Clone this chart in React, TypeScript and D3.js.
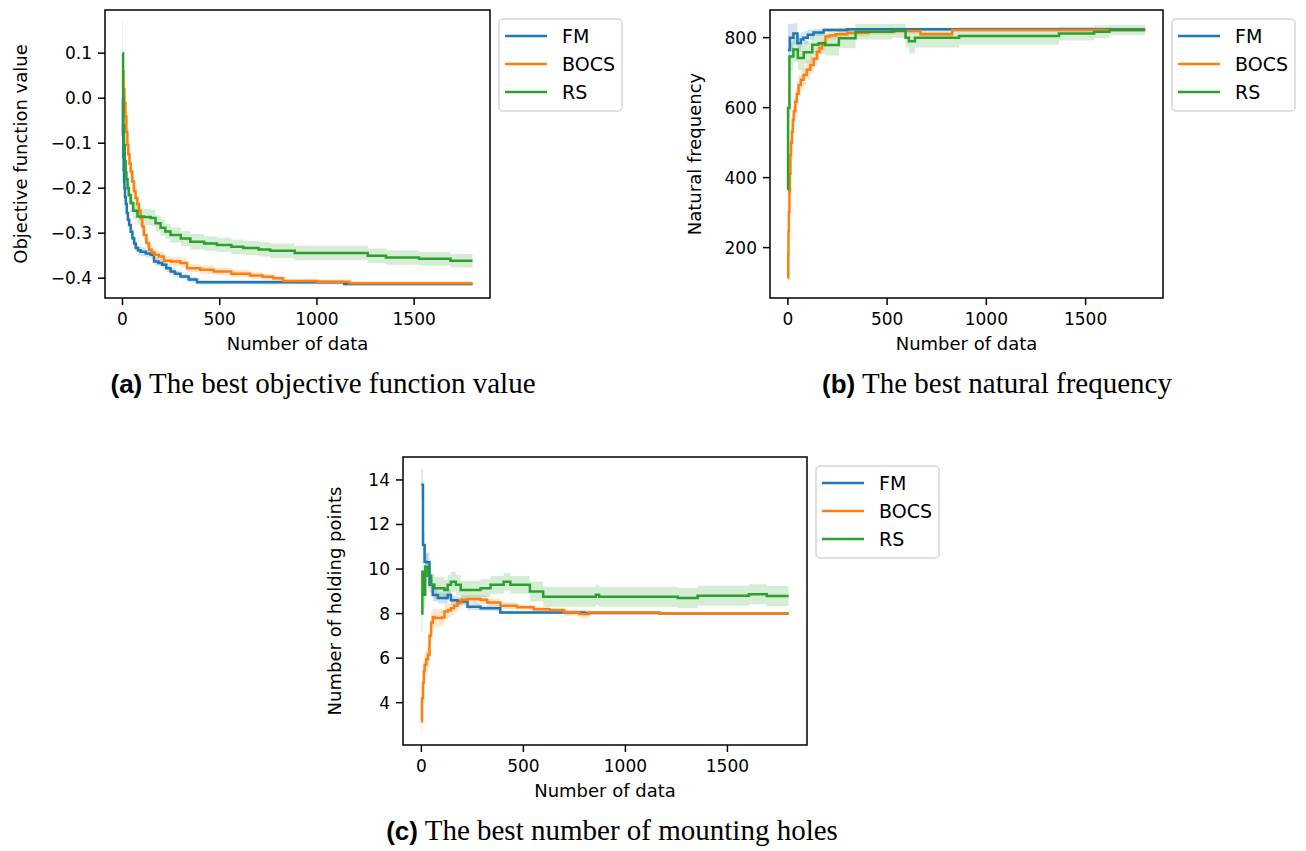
import React from 'react';
import * as d3 from 'd3';

// colours (matplotlib tab10)
const FM_COLOR = '#1f77b4';
const BOCS_COLOR = '#ff7f0e';
const RS_COLOR = '#2ca02c';

const xTicks = [0, 500, 1000, 1500];
const legendNames = ['FM', 'BOCS', 'RS'];

// (a) best objective function value
const fmObjX = [0, 2, 4, 6, 8, 10, 13, 17, 22, 28, 34, 42, 51, 60, 68, 80, 93, 120, 145, 162, 185, 204, 225, 247, 270, 298, 340, 383, 1140, 1800];
const fmObjMean = [0.0, -0.08, -0.13, -0.16, -0.185, -0.2, -0.22, -0.235, -0.255, -0.27, -0.282, -0.297, -0.311, -0.323, -0.333, -0.338, -0.341, -0.345, -0.348, -0.363, -0.366, -0.37, -0.378, -0.385, -0.39, -0.396, -0.403, -0.409, -0.413, -0.413];
const fmObjSd = [0.03, 0.03, 0.028, 0.025, 0.022, 0.02, 0.018, 0.016, 0.015, 0.014, 0.013, 0.012, 0.011, 0.01, 0.01, 0.01, 0.01, 0.009, 0.009, 0.009, 0.008, 0.008, 0.008, 0.008, 0.007, 0.006, 0.006, 0.005, 0.004, 0.004];

const bocsObjX = [0, 5, 10, 15, 20, 25, 30, 36, 42, 50, 59, 67, 76, 84, 93, 101, 110, 123, 136, 150, 165, 187, 213, 250, 298, 332, 400, 469, 560, 656, 720, 775, 826, 1000, 1167, 1800];
const bocsObjMean = [0.06, 0.02, -0.01, -0.04, -0.075, -0.104, -0.125, -0.145, -0.163, -0.185, -0.207, -0.222, -0.235, -0.25, -0.266, -0.285, -0.304, -0.322, -0.337, -0.343, -0.348, -0.352, -0.361, -0.363, -0.366, -0.378, -0.381, -0.385, -0.39, -0.394, -0.397, -0.4, -0.406, -0.408, -0.411, -0.411];
const bocsObjSd = [0.03, 0.03, 0.03, 0.029, 0.028, 0.026, 0.025, 0.023, 0.021, 0.02, 0.019, 0.018, 0.017, 0.016, 0.015, 0.015, 0.014, 0.013, 0.012, 0.012, 0.011, 0.011, 0.01, 0.01, 0.01, 0.009, 0.009, 0.008, 0.008, 0.007, 0.007, 0.006, 0.005, 0.005, 0.004, 0.004];

const rsObjX = [0, 3, 5, 8, 12, 16, 20, 26, 32, 42, 55, 77, 110, 145, 170, 196, 220, 247, 300, 349, 420, 486, 560, 621, 700, 760, 886, 1261, 1355, 1525, 1687, 1800];
const rsObjMean = [0.1, 0.0, -0.06, -0.104, -0.14, -0.165, -0.18, -0.2, -0.215, -0.233, -0.25, -0.263, -0.264, -0.266, -0.278, -0.288, -0.296, -0.304, -0.312, -0.319, -0.323, -0.326, -0.33, -0.333, -0.336, -0.339, -0.344, -0.35, -0.354, -0.357, -0.361, -0.361];
const rsObjSd = [0.07, 0.05, 0.04, 0.03, 0.028, 0.027, 0.025, 0.023, 0.022, 0.02, 0.019, 0.018, 0.018, 0.018, 0.018, 0.018, 0.017, 0.017, 0.017, 0.017, 0.016, 0.016, 0.016, 0.016, 0.016, 0.016, 0.016, 0.016, 0.016, 0.015, 0.015, 0.015];

// (b) best natural frequency
const fmFreqX = [0, 10, 28, 48, 65, 78, 100, 129, 180, 300, 1800];
const fmFreqMean = [765, 800, 812, 784, 795, 800, 808, 815, 822, 824, 824];
const fmFreqSd = [75, 40, 30, 25, 20, 18, 15, 10, 6, 4, 4];

const bocsFreqX = [0, 2, 3, 5, 8, 10, 13, 16, 20, 25, 30, 37, 45, 54, 65, 79, 95, 113, 130, 147, 160, 172, 189, 210, 240, 300, 408, 540, 668, 828, 1800];
const bocsFreqMean = [113, 180, 246, 300, 360, 410, 465, 500, 531, 565, 590, 617, 640, 665, 680, 693, 708, 722, 740, 760, 770, 779, 803, 806, 810, 814, 817, 819, 810, 822, 822];
const bocsFreqSd = [20, 30, 40, 42, 45, 45, 45, 45, 42, 40, 38, 36, 33, 30, 28, 28, 26, 25, 22, 20, 18, 15, 12, 11, 10, 9, 8, 7, 6, 5, 5];

const rsFreqX = [0, 1, 8, 28, 50, 80, 123, 155, 189, 257, 341, 526, 593, 610, 640, 862, 1366, 1543, 1620, 1800];
const rsFreqMean = [365, 599, 746, 766, 742, 758, 780, 784, 779, 798, 817, 820, 800, 790, 800, 805, 812, 817, 822, 822];
const rsFreqSd = [60, 50, 40, 35, 35, 32, 30, 30, 30, 28, 22, 20, 28, 35, 28, 25, 20, 18, 15, 15];

// (c) best number of mounting holes
const fmHoleX = [0, 8, 16, 24, 40, 56, 81, 129, 145, 177, 226, 290, 387, 800, 1169, 1800];
const fmHoleMean = [13.78, 11.08, 10.33, 10.3, 9.29, 8.84, 8.7, 8.84, 8.6, 8.54, 8.31, 8.24, 8.05, 8.03, 8.0, 8.0];
const fmHoleSd = [0.7, 0.6, 0.5, 0.45, 0.35, 0.3, 0.25, 0.22, 0.2, 0.18, 0.15, 0.12, 0.08, 0.05, 0.03, 0.03];

const bocsHoleX = [0, 3, 8, 12, 16, 24, 32, 40, 48, 56, 64, 80, 100, 113, 130, 145, 160, 177, 193, 226, 290, 322, 387, 468, 550, 629, 700, 774, 822, 1169, 1800];
const bocsHoleMean = [3.15, 4.2, 4.9, 5.4, 5.7, 5.95, 6.15, 7.0, 7.6, 7.85, 7.8, 7.8, 7.82, 8.09, 8.15, 8.24, 8.35, 8.47, 8.61, 8.65, 8.62, 8.5, 8.35, 8.28, 8.2, 8.15, 8.05, 7.98, 8.05, 8.0, 8.0];
const bocsHoleSd = [0.5, 0.6, 0.6, 0.6, 0.6, 0.6, 0.6, 0.5, 0.45, 0.42, 0.4, 0.38, 0.36, 0.35, 0.32, 0.3, 0.28, 0.25, 0.22, 0.2, 0.19, 0.18, 0.15, 0.12, 0.11, 0.1, 0.15, 0.2, 0.08, 0.03, 0.03];

const rsHoleX = [0, 5, 11, 19, 32, 48, 64, 113, 129, 145, 169, 193, 290, 339, 403, 436, 532, 597, 855, 871, 1257, 1354, 1605, 1693, 1800];
const rsHoleMean = [8.0, 9.88, 8.85, 10.1, 9.7, 9.29, 9.14, 9.06, 9.29, 9.43, 9.29, 9.06, 9.14, 9.29, 9.43, 9.29, 8.99, 8.76, 8.85, 8.76, 8.7, 8.8, 8.87, 8.79, 8.79];
const rsHoleSd = [0.8, 0.7, 0.6, 0.6, 0.55, 0.5, 0.5, 0.45, 0.45, 0.45, 0.45, 0.4, 0.4, 0.4, 0.4, 0.4, 0.45, 0.45, 0.45, 0.45, 0.45, 0.45, 0.45, 0.45, 0.45];

type Series = { color: string; x: number[]; mean: number[]; sd: number[] };
type Box = { left: number; right: number; top: number; bottom: number };

const FONT = '"DejaVu Sans", sans-serif';

function Panel(props: {
  box: Box;
  yDomain: [number, number];
  yTicks: number[];
  yFmt: (v: number) => string;
  yLabel: string;
  yLabelX: number;
  series: Series[];
}) {
  const { box, yDomain, yTicks, yFmt, yLabel, yLabelX, series } = props;
  const x = d3.scaleLinear().domain([-90, 1890]).range([box.left, box.right]);
  const y = d3.scaleLinear().domain(yDomain).range([box.bottom, box.top]);

  const paths = series.map((s) => {
    const idx = d3.range(s.x.length);
    const area = d3
      .area<number>()
      .x((i) => x(s.x[i]))
      .y0((i) => y(s.mean[i] - s.sd[i]))
      .y1((i) => y(s.mean[i] + s.sd[i]))
      .curve(d3.curveStepAfter);
    const line = d3
      .line<number>()
      .x((i) => x(s.x[i]))
      .y((i) => y(s.mean[i]))
      .curve(d3.curveStepAfter);
    return { color: s.color, area: area(idx) || '', line: line(idx) || '' };
  });

  const midY = (box.top + box.bottom) / 2;
  const lx = box.right + 9;
  const ly = box.top + 9;

  return (
    <g>
      {paths.map((p, i) => (
        <path key={'a' + i} d={p.area} fill={p.color} fillOpacity={0.2} stroke="none" />
      ))}
      {paths.map((p, i) => (
        <path key={'l' + i} d={p.line} fill="none" stroke={p.color} strokeWidth={2.5} />
      ))}
      <rect
        x={box.left}
        y={box.top}
        width={box.right - box.left}
        height={box.bottom - box.top}
        fill="none"
        stroke="#000"
        strokeWidth={1.5}
      />
      {xTicks.map((t) => (
        <g key={'xt' + t}>
          <line x1={x(t)} x2={x(t)} y1={box.bottom} y2={box.bottom + 7} stroke="#000" strokeWidth={1.5} />
          <text x={x(t)} y={box.bottom + 27} textAnchor="middle" fontSize={17} fontFamily={FONT}>
            {t}
          </text>
        </g>
      ))}
      {yTicks.map((t) => (
        <g key={'yt' + t}>
          <line x1={box.left - 7} x2={box.left} y1={y(t)} y2={y(t)} stroke="#000" strokeWidth={1.5} />
          <text x={box.left - 13} y={y(t)} dy="0.35em" textAnchor="end" fontSize={17} fontFamily={FONT}>
            {yFmt(t)}
          </text>
        </g>
      ))}
      <text
        x={(box.left + box.right) / 2}
        y={box.bottom + 52}
        textAnchor="middle"
        fontSize={18}
        fontFamily={FONT}
      >
        Number of data
      </text>
      <text
        transform={`translate(${yLabelX},${midY}) rotate(-90)`}
        textAnchor="middle"
        fontSize={18}
        fontFamily={FONT}
      >
        {yLabel}
      </text>
      <g transform={`translate(${lx},${ly})`}>
        <rect x={0} y={0} width={123} height={92} rx={4} fill="#fff" stroke="#d6d6d6" strokeWidth={1.5} />
        {legendNames.map((n, i) => (
          <g key={n} transform={`translate(0,${17 + i * 28})`}>
            <line x1={6} x2={48} y1={0} y2={0} stroke={series[i].color} strokeWidth={2.5} />
            <text x={63} y={0} dy="0.35em" fontSize={19} fontFamily={FONT}>
              {n}
            </text>
          </g>
        ))}
      </g>
    </g>
  );
}

function Caption({ cx, y, tag, text }: { cx: number; y: number; tag: string; text: string }) {
  return (
    <text x={cx} y={y} textAnchor="middle">
      <tspan fontFamily='"Liberation Sans", Arial, sans-serif' fontWeight="bold" fontSize={26}>
        {tag}
      </tspan>
      <tspan fontFamily='"Liberation Serif", "Times New Roman", serif' fontSize={29}>
        {' ' + text}
      </tspan>
    </text>
  );
}

const minus = (s: string) => s.replace('-', '\u2212');

export default function App() {
  return (
    <svg
      width={1306}
      height={851}
      style={{ position: 'absolute', left: 0, top: 0, background: '#fff' }}
    >
      <rect width={1306} height={851} fill="#fff" />
      <Panel
        box={{ left: 105, right: 490, top: 10, bottom: 298 }}
        yDomain={[-0.444, 0.196]}
        yTicks={[-0.4, -0.3, -0.2, -0.1, 0.0, 0.1]}
        yFmt={(v) => minus(d3.format('.1f')(v))}
        yLabel="Objective function value"
        yLabelX={27}
        series={[
          { color: FM_COLOR, x: fmObjX, mean: fmObjMean, sd: fmObjSd },
          { color: BOCS_COLOR, x: bocsObjX, mean: bocsObjMean, sd: bocsObjSd },
          { color: RS_COLOR, x: rsObjX, mean: rsObjMean, sd: rsObjSd },
        ]}
      />
      <Panel
        box={{ left: 770, right: 1163, top: 10, bottom: 298 }}
        yDomain={[56, 879]}
        yTicks={[200, 400, 600, 800]}
        yFmt={(v) => String(v)}
        yLabel="Natural frequency"
        yLabelX={701}
        series={[
          { color: FM_COLOR, x: fmFreqX, mean: fmFreqMean, sd: fmFreqSd },
          { color: BOCS_COLOR, x: bocsFreqX, mean: bocsFreqMean, sd: bocsFreqSd },
          { color: RS_COLOR, x: rsFreqX, mean: rsFreqMean, sd: rsFreqSd },
        ]}
      />
      <Panel
        box={{ left: 403, right: 807, top: 457, bottom: 745 }}
        yDomain={[2.1, 15.03]}
        yTicks={[4, 6, 8, 10, 12, 14]}
        yFmt={(v) => String(v)}
        yLabel="Number of holding points"
        yLabelX={341}
        series={[
          { color: FM_COLOR, x: fmHoleX, mean: fmHoleMean, sd: fmHoleSd },
          { color: BOCS_COLOR, x: bocsHoleX, mean: bocsHoleMean, sd: bocsHoleSd },
          { color: RS_COLOR, x: rsHoleX, mean: rsHoleMean, sd: rsHoleSd },
        ]}
      />
      <Caption cx={323} y={393} tag="(a)" text="The best objective function value" />
      <Caption cx={997} y={393} tag="(b)" text="The best natural frequency" />
      <Caption cx={612} y={840} tag="(c)" text="The best number of mounting holes" />
    </svg>
  );
}
